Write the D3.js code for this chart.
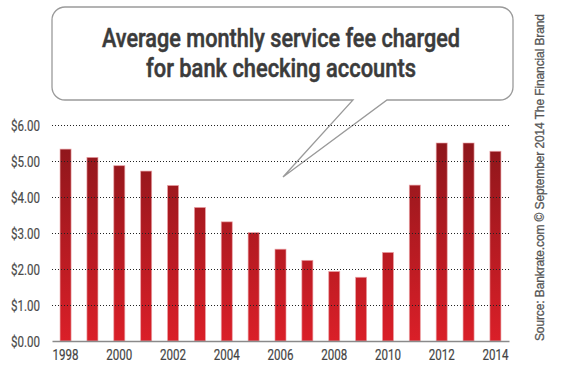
<!DOCTYPE html>
<html>
<head>
<meta charset="utf-8">
<script src="https://cdn.jsdelivr.net/npm/d3@7"></script>
<style>
  body { margin: 0; background: #fff; }
  svg { display: block; }
</style>
</head>
<body>
<div id="chart"></div>
<script>
// data
var years = [1998, 1999, 2000, 2001, 2002, 2003, 2004, 2005, 2006, 2007, 2008, 2009, 2010, 2011, 2012, 2013, 2014];
var fees = [5.33, 5.10, 4.87, 4.72, 4.32, 3.71, 3.31, 3.01, 2.55, 2.24, 1.93, 1.77, 2.46, 4.33, 5.50, 5.50, 5.27];
var yTicks = [0, 1, 2, 3, 4, 5, 6];
var xTicks = [1998, 2000, 2002, 2004, 2006, 2008, 2010, 2012, 2014];
var titleLines = ['Average monthly service fee charged', 'for bank checking accounts'];
var sourceText = 'Source: Bankrate.com \u00a9 September 2014 The Financial Brand';

var width = 565, height = 372;
var plotLeft = 52, plotRight = 509, plotTop = 125, plotBottom = 341;
var narrow = 'Roboto, "Liberation Sans", sans-serif';

var svg = d3.select('#chart')
    .append('svg')
    .attr('width', width)
    .attr('height', height);

var x = d3.scaleBand()
    .domain(years)
    .range([plotLeft, plotRight])
    .paddingInner(0.59)
    .paddingOuter(0.3);

var y = d3.scaleLinear()
    .domain([0, 6])
    .range([plotBottom, plotTop]);

// gradient for the bars, dark near the top of the plot, bright red at the baseline
var grad = svg.append('defs')
    .append('linearGradient')
    .attr('id', 'barGrad')
    .attr('gradientUnits', 'userSpaceOnUse')
    .attr('x1', 0).attr('x2', 0)
    .attr('y1', 140).attr('y2', plotBottom);
grad.append('stop').attr('offset', '0%').attr('stop-color', '#8d161b');
grad.append('stop').attr('offset', '100%').attr('stop-color', '#da1f28');

// speech bubble around the title
var bx0 = 52, bx1 = 513, by0 = 7, by1 = 100, r = 13;
var bubble = d3.path();
bubble.moveTo(bx0 + r, by0);
bubble.lineTo(bx1 - r, by0);
bubble.arcTo(bx1, by0, bx1, by0 + r, r);
bubble.lineTo(bx1, by1 - r);
bubble.arcTo(bx1, by1, bx1 - r, by1, r);
bubble.lineTo(387, by1);
bubble.lineTo(283, 177);
bubble.lineTo(353, by1);
bubble.lineTo(bx0 + r, by1);
bubble.arcTo(bx0, by1, bx0, by1 - r, r);
bubble.lineTo(bx0, by0 + r);
bubble.arcTo(bx0, by0, bx0 + r, by0, r);
bubble.closePath();

svg.append('path')
    .attr('d', bubble.toString())
    .attr('fill', '#fff')
    .attr('stroke', '#9a9a9a')
    .attr('stroke-width', 1.3);

var titleWidths = [358, 270];
svg.append('g')
    .selectAll('text')
    .data(titleLines)
    .enter()
    .append('text')
    .attr('x', 281)
    .attr('y', function (d, i) { return 47 + i * 30; })
    .attr('text-anchor', 'middle')
    .attr('font-family', narrow)
    .attr('font-size', 25)
    .attr('font-weight', 500)
    .attr('fill', '#3b3b3b')
    .attr('stroke', '#3b3b3b')
    .attr('stroke-width', 0.5)
    .attr('textLength', function (d, i) { return titleWidths[i]; })
    .attr('lengthAdjust', 'spacingAndGlyphs')
    .text(function (d) { return d; });

// bars
svg.append('g')
    .selectAll('rect')
    .data(fees)
    .enter()
    .append('rect')
    .attr('x', function (d, i) { return x(years[i]); })
    .attr('y', function (d) { return y(d); })
    .attr('width', x.bandwidth())
    .attr('height', function (d) { return y(0) - y(d); })
    .attr('fill', 'url(#barGrad)')
    .attr('stroke', 'rgba(235,160,165,0.8)')
    .attr('stroke-width', 0.8);

// dotted grid lines, drawn over the bars
var grid = svg.append('g')
    .attr('transform', 'translate(' + plotLeft + ',0)')
    .call(d3.axisRight(y)
        .tickValues(yTicks.slice(1))
        .tickSize(plotRight - plotLeft)
        .tickFormat(''));
grid.select('.domain').remove();
grid.selectAll('line')
    .attr('stroke', '#222')
    .attr('stroke-width', 1)
    .attr('stroke-dasharray', '1,2');

// y labels, left aligned
var yAxis = svg.append('g')
    .attr('transform', 'translate(11,0)')
    .call(d3.axisLeft(y)
        .tickValues(yTicks)
        .tickSize(0)
        .tickPadding(0)
        .tickFormat(d3.format('$.2f')));
yAxis.select('.domain').remove();
yAxis.selectAll('text')
    .attr('x', 0)
    .attr('text-anchor', 'start')
    .attr('dy', '0.36em')
    .attr('font-family', narrow)
    .attr('font-size', 14.5)
    .attr('fill', '#4a4a4a')
    .attr('stroke', '#4a4a4a')
    .attr('stroke-width', 0.2)
    .attr('textLength', 29)
    .attr('lengthAdjust', 'spacingAndGlyphs');

// x axis with the solid baseline
var xAxis = svg.append('g')
    .attr('transform', 'translate(0,' + plotBottom + ')')
    .call(d3.axisBottom(x)
        .tickValues(xTicks)
        .tickSize(0)
        .tickPadding(9));
xAxis.select('.domain')
    .attr('stroke', '#8a8a8a')
    .attr('stroke-width', 1.6);
xAxis.selectAll('text')
    .attr('font-family', narrow)
    .attr('font-size', 14.5)
    .attr('fill', '#444')
    .attr('stroke', '#444')
    .attr('stroke-width', 0.2)
    .attr('textLength', 26)
    .attr('lengthAdjust', 'spacingAndGlyphs');

// rotated source line on the right
svg.append('text')
    .attr('transform', 'translate(544,341) rotate(-90)')
    .attr('text-anchor', 'start')
    .attr('font-family', '"Liberation Sans", Arial, sans-serif')
    .attr('font-size', 12)
    .attr('fill', '#555')
    .attr('stroke', '#555')
    .attr('stroke-width', 0.3)
    .attr('textLength', 327)
    .attr('lengthAdjust', 'spacing')
    .text(sourceText);
</script>
</body>
</html>
